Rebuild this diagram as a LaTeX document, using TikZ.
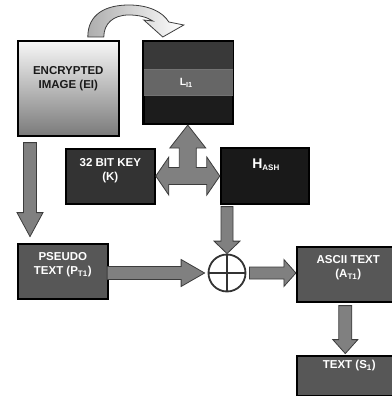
\documentclass[tikz,border=0pt]{standalone}
\usepackage{fontspec}
\setmainfont{Liberation Sans}
\usetikzlibrary{calc}
\definecolor{arrowgray}{HTML}{808080}
\definecolor{arrowline}{HTML}{3C3C3C}
\definecolor{keyfill}{HTML}{333333}
\definecolor{boxgray}{HTML}{575757}
\definecolor{ltop}{HTML}{393939}
\definecolor{lmid}{HTML}{666666}
\definecolor{lbot}{HTML}{1C1C1C}
\definecolor{eitext}{HTML}{1A1A1A}
\begin{document}
\begin{tikzpicture}[x=1pt,y=-1pt,
	blk/.style={draw=black,line width=1.6pt,anchor=north west,inner sep=0pt},
	lbl/.style={anchor=north,inner sep=0pt,align=center,text=white,
		font=\fontsize{11.5}{14}\selectfont\bfseries},
	barrow/.style={fill=arrowgray,draw=arrowline,line width=0.8pt,line join=miter}]
	\useasboundingbox (0,0) rectangle (391,396);
	%boxes
	\node[blk,minimum width=101pt,minimum height=95pt,top color=black!3,bottom color=black!52] (ei) at (17,40) {};
	\node[blk,minimum width=89pt,minimum height=82pt,fill=lbot] (lbox) at (143,41) {};
	\node[blk,minimum width=89pt,minimum height=55pt,fill=keyfill] (key) at (65,148) {};
	\node[blk,minimum width=88pt,minimum height=56pt,top color=black!90,middle color=black!58,bottom color=black!90] (hash) at (220,147) {};
	\node[blk,minimum width=90pt,minimum height=55pt,fill=boxgray] (pt) at (17,243) {};
	\node[blk,minimum width=97pt,minimum height=55pt,fill=boxgray] (asc) at (296,246) {};
	\node[blk,minimum width=97pt,minimum height=40pt,fill=boxgray] (txt) at (296,355) {};
	\node[circle,draw=keyfill,line width=1.8pt,fill=white,minimum size=37pt,inner sep=0pt] (xor) at (227,273) {};
	\draw[keyfill,line width=1.8pt] (xor.north) -- (xor.south) (xor.west) -- (xor.east);
	
	%stripes of the L box
	\fill[ltop] (lbox.north west) rectangle ($(lbox.north east)+(0,28)$);
	\fill[lmid] ($(lbox.north west)+(0,28)$) rectangle ($(lbox.north east)+(0,54)$);
	\draw[black!55,line width=0.6pt] ($(lbox.north west)+(1,28)$) -- ($(lbox.north east)+(-1,28)$);
	\draw[black!55,line width=0.6pt] ($(lbox.north west)+(1,54)$) -- ($(lbox.north east)+(-1,54)$);
	\draw[black,line width=1.6pt] (lbox.north west) rectangle (lbox.south east);
	
	%texts
	\node[lbl,text=eitext] (eit) at ($(ei.north)+(0,26)$) {ENCRYPTED\\IMAGE (EI)};
	\node[inner sep=0pt,text=white,font=\fontsize{10.5}{10.5}\selectfont\bfseries] (lt) at ($(lbox.north)+(-2,42)$) {L\textsubscript{I1}};
	\node[lbl] (keyt) at ($(key.north)+(0,10)$) {32 BIT KEY\\(K)};
	\node[lbl] (hasht) at ($(hash.north)+(1,12)$) {{\fontsize{14}{14}\selectfont H}\raisebox{-2pt}{\fontsize{8}{8}\selectfont ASH}};
	\node[lbl] (ptt) at ($(pt.north)+(0,9)$) {PSEUDO\\TEXT (P\textsubscript{T1})};
	\node[lbl] (asct) at ($(asc.north)+(3,9)$) {ASCII TEXT\\(A\textsubscript{T1})};
	\node[lbl] (txtt) at ($(txt.north)+(4,5)$) {TEXT (S\textsubscript{1})};
	
	%curved arrow
	\begin{scope}[shift={(ei.north)}]
		\draw[left color=black!32,right color=white,draw=arrowline,line width=0.8pt]
		(19.5,-3) .. controls (19.5,-26) and (37.5,-35) .. (60.5,-35)
		.. controls (80.5,-35) and (94.5,-28) .. (100.5,-18)
		-- (115.5,-15) -- (94.5,-3) -- (75.5,-20) -- (84.5,-19)
		.. controls (78.5,-23) and (70.5,-25) .. (60.5,-25)
		.. controls (44.5,-25) and (35.5,-16) .. (35.5,-3) -- cycle;
	\end{scope}
	
	%three way arrow
	\coordinate (mid) at ($(key.east)!0.5!(hash.west)$);
	\begin{scope}[shift={(mid)}]
		\draw[barrow] (-32,0) -- (-19,-19) -- (-19,-8.5) -- (-8.5,-8.5) -- (-8.5,-28) -- (-18,-28) -- (0,-51)
		-- (18,-28) -- (8.5,-28) -- (8.5,-8.5) -- (19,-8.5) -- (19,-19) -- (32,0)
		-- (19,19) -- (19,8.5) -- (-19,8.5) -- (-19,19) -- cycle;
	\end{scope}
	
	%down arrows
	\begin{scope}[shift={(ei.south west)}]
		\draw[barrow] (6.5,6) -- (19.5,6) -- (19.5,76) -- (26,76) -- (13,100) -- (0,76) -- (6.5,76) -- cycle;
	\end{scope}
	\begin{scope}[shift={(xor.north)}]
		\draw[barrow] (-6,-47) -- (6,-47) -- (6,-12.5) -- (13,-12.5) -- (0,0) -- (-13,-12.5) -- (-6,-12.5) -- cycle;
	\end{scope}
	\begin{scope}[shift={(asc.south)}]
		\draw[barrow] (-6.5,3) -- (6.5,3) -- (6.5,37) -- (12.5,37) -- (0,51) -- (-12.5,37) -- (-6.5,37) -- cycle;
	\end{scope}
	
	%right arrows
	\begin{scope}[shift={(xor.west)}]
		\draw[barrow] (-100.5,-6.5) -- (-26.5,-6.5) -- (-26.5,-13.5) -- (-3,0) -- (-26.5,13.5) -- (-26.5,6.5) -- (-100.5,6.5) -- cycle;
	\end{scope}
	\begin{scope}[shift={(xor.east)}]
		\draw[barrow] (3,-6) -- (37.5,-6) -- (37.5,-13.5) -- (49.5,0) -- (37.5,13.5) -- (37.5,6) -- (3,6) -- cycle;
	\end{scope}
\end{tikzpicture}
\end{document}
